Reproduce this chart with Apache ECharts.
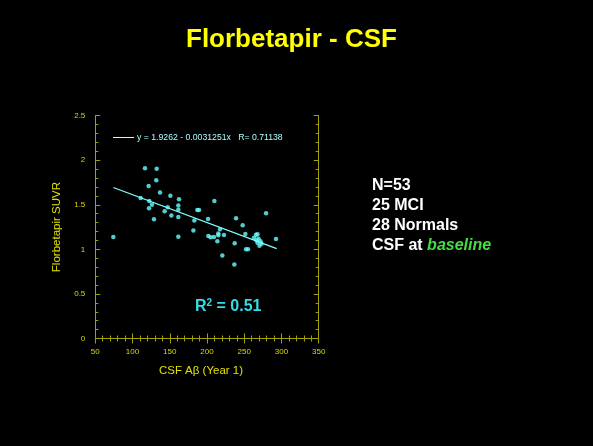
<!DOCTYPE html>
<html>
<head>
<meta charset="utf-8">
<script src="https://cdn.jsdelivr.net/npm/echarts@6/dist/echarts.min.js"></script>
<style>
html,body{margin:0;padding:0;background:#000;}
#chart{width:593px;height:446px;}
</style>
</head>
<body>
<div id="chart"></div>
<script>
// ---- data ----
const csfAbeta = [74.2,116.7,132.4,131.9,121.6,136.9,150.8,110.9,122.5,162.4,126.1,122.1,147.2,161.5,143.1,161.5,152.1,161.5,128.8,187.0,189.3,209.9,183.0,181.7,161.5,201.4,217.5,201.8,204.9,209.4,215.2,215.2,222.8,213.9,220.6,239.0,247.9,237.2,236.7,251.5,252.4,255.1,279.3,292.7,263.1,265.8,267.8,266.5,269.2,267.8,271.9,270.5,273.2];
const suvr = [1.140,1.910,1.906,1.775,1.711,1.637,1.603,1.577,1.543,1.562,1.502,1.461,1.472,1.491,1.427,1.446,1.379,1.364,1.338,1.442,1.442,1.543,1.323,1.211,1.143,1.342,1.226,1.151,1.136,1.140,1.177,1.158,1.162,1.091,0.930,1.349,1.271,1.069,0.830,1.173,1.001,1.001,1.405,1.117,1.130,1.164,1.170,1.102,1.119,1.074,1.091,1.040,1.063];
const fitIntercept = 1.9262;
const fitSlope = -0.0031251;
const fitRange = [74.2, 293.6];
const fitLabel = 'y = 1.9262 - 0.0031251x   R= 0.71138';
const xTicks = [50, 350, 50];   // min, max, interval
const yTicks = [0, 2.5, 0.5];
const infoLines = ['N=53', '25 MCI', '28 Normals'];

const points = csfAbeta.map((x, i) => [x, suvr[i]]);
const fitLine = fitRange.map(x => [x, fitIntercept + fitSlope * x]);

const FONT = 'Liberation Sans, Arial, sans-serif';
const FRAME = '#a0a000';
const LABEL = '#d8d800';

function xAx(pos, labels) {
  return {
    type: 'value', position: pos, min: xTicks[0], max: xTicks[1], interval: xTicks[2],
    axisLine: {show: true, lineStyle: {color: FRAME, width: 1}},
    axisTick: {show: true, inside: true, length: 5, lineStyle: {color: FRAME}},
    minorTick: {show: true, splitNumber: 5, length: 3, lineStyle: {color: FRAME}},
    splitLine: {show: false},
    axisLabel: {show: labels, color: LABEL, fontSize: 8, fontFamily: FONT, margin: 9},
    name: labels ? 'CSF A\u03b2 (Year 1)' : '',
    nameLocation: 'middle', nameGap: 26,
    nameTextStyle: {color: '#e0e000', fontSize: 11.5, fontFamily: FONT, padding: [0, 12, 0, 0]}
  };
}
function yAx(pos, labels) {
  return {
    type: 'value', position: pos, min: yTicks[0], max: yTicks[1], interval: yTicks[2],
    axisLine: {show: true, lineStyle: {color: FRAME, width: 1}},
    axisTick: {show: true, inside: true, length: 5, lineStyle: {color: FRAME}},
    minorTick: {show: true, splitNumber: 5, length: 3, lineStyle: {color: FRAME}},
    splitLine: {show: false},
    axisLabel: {show: labels, color: LABEL, fontSize: 8, fontFamily: FONT, margin: 10},
    name: labels ? 'Florbetapir SUVR' : '',
    nameLocation: 'middle', nameGap: 32,
    nameTextStyle: {color: '#e0e000', fontSize: 11.5, fontFamily: FONT}
  };
}

const chart = echarts.init(document.getElementById('chart'));
chart.setOption({
  backgroundColor: '#000',
  animation: false,
  title: {
    text: 'Florbetapir - CSF', left: 181, top: 22,
    textStyle: {color: '#ffff00', fontSize: 26, fontWeight: 'bold', fontFamily: FONT}
  },
  grid: {left: 95.3, right: 274.3, top: 115.7, bottom: 107.5},
  xAxis: [xAx('bottom', true), xAx('top', false)],
  yAxis: [yAx('left', true), yAx('right', false)],
  legend: {
    data: [{name: fitLabel, icon: 'rect'}],
    left: 113, top: 133, padding: 0, itemWidth: 21, itemHeight: 1, itemGap: 4,
    textStyle: {color: '#a8ffff', fontSize: 8.7, fontFamily: FONT, padding: [0,0,0,-2]}
  },
  series: [
    {
      type: 'scatter', name: 'data', data: points, symbol: 'circle', symbolSize: 4.5,
      itemStyle: {color: '#66ffff'}
    },
    {
      type: 'line', name: fitLabel, data: fitLine, symbol: 'none',
      lineStyle: {color: '#80ffff', width: 1.2}, itemStyle: {color: '#c0ffff'}
    }
  ],
  graphic: [
    {
      type: 'text', left: 195, top: 298,
      style: {
        text: 'R{sup|2} = 0.51',
        fill: '#33dde6', font: 'bold 16px ' + FONT,
        rich: {sup: {fontSize: 10, fontWeight: 'bold', fill: '#33dde6', verticalAlign: 'top', padding: [0,0,7,0]}}
      }
    },
    {
      type: 'group', left: 372, top: 178,
      children: infoLines.map((t, i) => ({
        type: 'text', x: 0, y: i * 20,
        style: {text: t, fill: '#ffffff', font: 'bold 16px ' + FONT}
      })).concat([{
        type: 'text', x: 0, y: 3 * 20,
        style: {
          text: 'CSF at {g|baseline}', fill: '#ffffff', font: 'bold 16px ' + FONT,
          rich: {g: {fill: '#44dd44', fontStyle: 'italic', fontWeight: 'bold', fontSize: 16, fontFamily: FONT}}
        }
      }])
    }
  ]
});
</script>
</body>
</html>
